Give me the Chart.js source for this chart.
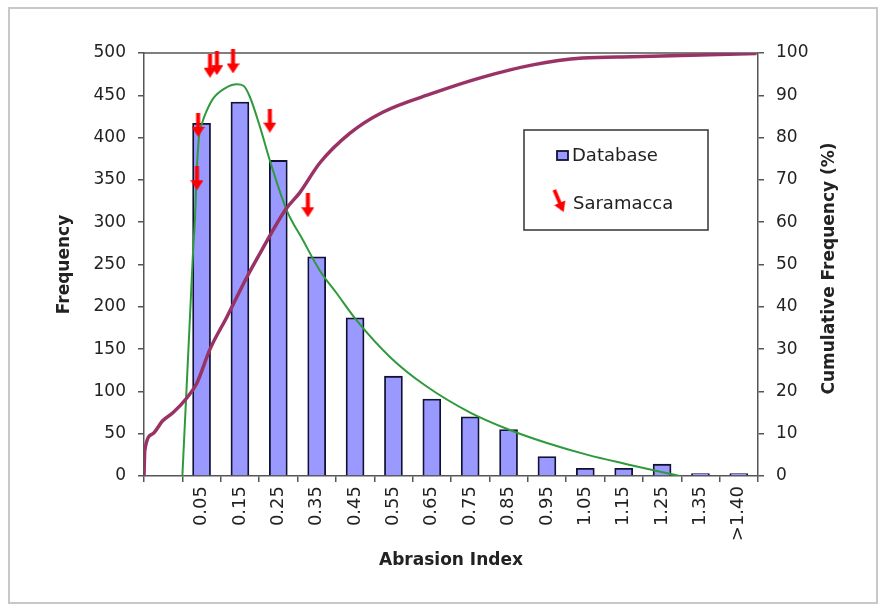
<!DOCTYPE html>
<html>
<head>
<meta charset="utf-8">
<script src="https://cdn.jsdelivr.net/npm/chart.js@4.4.1/dist/chart.umd.min.js"></script>
<style>
  html, body { margin: 0; padding: 0; background: #fff; }
  #wrap { width: 878px; height: 605px; }
</style>
</head>
<body>
<div id="wrap"><canvas id="chart" width="878" height="605"></canvas></div>
<script>
// --- data ---
const categories = ['', '0.05', '0.15', '0.25', '0.35', '0.45', '0.55', '0.65', '0.75',
                    '0.85', '0.95', '1.05', '1.15', '1.25', '1.35', '>1.40'];
const frequency = [null, 417, 442, 373, 259, 187, 118, 91, 70, 55, 23, 9, 9, 14, 3, 3];

// cumulative frequency curve (right axis, %)
const cumIndex   = [-0.100, -0.098, -0.077, -0.052, -0.024, 0.012, 0.038, 0.072, 0.116, 0.168,
                    0.207, 0.269, 0.306, 0.358, 0.436, 0.522, 0.653, 0.783, 0.913, 1.043,
                    1.173, 1.350, 1.496];
const cumPercent = [0, 6, 10, 13, 15, 18.5, 22, 30, 37.6, 47,
                    53.4, 63, 67, 74, 81, 86, 90.5, 94.3, 97.2, 98.8,
                    99.1, 99.5, 99.9];

// fitted distribution (left axis)
const fitIndex = [0.000, 0.010, 0.020, 0.028, 0.033, 0.037, 0.043, 0.050, 0.060, 0.080,
                  0.110, 0.142, 0.160, 0.176, 0.202, 0.228, 0.272, 0.314, 0.358, 0.402,
                  0.454, 0.545, 0.633, 0.750, 0.850, 0.950, 1.056, 1.158, 1.246, 1.296];
const fitFrequency = [0, 95, 190, 267, 305, 355, 400, 415, 428, 446,
                      458, 463, 461, 448, 413, 373, 314, 279, 243, 216,
                      184, 139, 107, 75, 55, 39, 25, 14, 5, 0];

// Saramacca samples (arrows)
const saramaccaIndex = [0.041, 0.038, 0.072, 0.090, 0.132, 0.228, 0.327];
const saramaccaLevel = [415, 352, 485, 488, 490, 420, 320];

const FONT = 'DejaVu Sans';
const TEXT = '#222';
const AXIS = '#555';

// small red down arrow used as point style
function makeArrow(w, h) {
    const c = document.createElement('canvas');
    c.width = w; c.height = h;
    const g = c.getContext('2d');
    const shaft = 4, head = 10;
    g.fillStyle = '#ff0000';
    g.fillRect(w / 2 - shaft / 2, 0, shaft, h - head);
    g.beginPath();
    g.moveTo(0, h - head);
    g.lineTo(w, h - head);
    g.lineTo(w / 2, h);
    g.closePath();
    g.fill();
    return c;
}
const arrowImg = makeArrow(13, 24);

// frame, top border, right title, legend
const decorations = {
    id: 'decorations',
    beforeDatasetsDraw(chart) {
        const { ctx, chartArea: a } = chart;
        ctx.save();
        ctx.strokeStyle = '#c8c8c8';
        ctx.lineWidth = 2;
        ctx.strokeRect(9, 8, 868, 595);
        ctx.strokeStyle = AXIS;
        ctx.lineWidth = 1.5;
        ctx.beginPath();
        ctx.moveTo(a.left, a.top);
        ctx.lineTo(a.right, a.top);
        ctx.stroke();
        ctx.restore();
    },
    afterDraw(chart) {
        const { ctx, chartArea: a } = chart;
        ctx.save();

        // right axis title, reading bottom to top
        ctx.translate(830, (a.top + a.bottom) / 2 + 4);
        ctx.rotate(-Math.PI / 2);
        ctx.fillStyle = TEXT;
        ctx.font = 'bold 17px "' + FONT + '"';
        ctx.textAlign = 'center';
        ctx.textBaseline = 'middle';
        ctx.fillText('Cumulative Frequency (%)', 0, 0);
        ctx.setTransform(1, 0, 0, 1, 0, 0);

        // legend box
        ctx.fillStyle = '#fff';
        ctx.fillRect(524, 130, 184, 100);
        ctx.strokeStyle = '#333';
        ctx.lineWidth = 1.5;
        ctx.strokeRect(524, 130, 184, 100);

        ctx.fillStyle = '#9999ff';
        ctx.fillRect(557, 151, 11, 9);
        ctx.strokeStyle = '#111133';
        ctx.lineWidth = 1.8;
        ctx.strokeRect(557, 151, 11, 9);

        ctx.save();
        ctx.translate(559, 201);
        ctx.rotate(-0.4);
        ctx.drawImage(arrowImg, -6, -12, 12, 24);
        ctx.restore();

        ctx.fillStyle = TEXT;
        ctx.font = '18px "' + FONT + '"';
        ctx.textAlign = 'left';
        ctx.textBaseline = 'middle';
        ctx.fillText('Database', 572, 156);
        ctx.fillText('Saramacca', 573, 204);
        ctx.restore();
    }
};

const ctx = document.getElementById('chart');
new Chart(ctx, {
    type: 'bar',
    data: {
        labels: categories,
        datasets: [
            {
                type: 'bar',
                label: 'Database',
                data: frequency,
                backgroundColor: '#9999ff',
                borderColor: '#111133',
                borderWidth: 1.8,
                grouped: false,
                barThickness: 18,
                xAxisID: 'x',
                yAxisID: 'y',
                order: 4
            },
            {
                type: 'line',
                label: 'Fit',
                data: fitIndex.map((v, i) => ({ x: v, y: fitFrequency[i] })),
                xAxisID: 'xl',
                yAxisID: 'y',
                borderColor: '#2f9a3c',
                borderWidth: 2,
                pointRadius: 0,
                cubicInterpolationMode: 'monotone',
                order: 3
            },
            {
                type: 'line',
                label: 'Cumulative',
                data: cumIndex.map((v, i) => ({ x: v, y: cumPercent[i] })),
                xAxisID: 'xl',
                yAxisID: 'y1',
                borderColor: '#993366',
                borderWidth: 3.5,
                pointRadius: 0,
                cubicInterpolationMode: 'monotone',
                order: 2
            },
            {
                type: 'scatter',
                label: 'Saramacca',
                data: saramaccaIndex.map((v, i) => ({ x: v, y: saramaccaLevel[i] })),
                xAxisID: 'xl',
                yAxisID: 'y',
                showLine: false,
                pointStyle: arrowImg,
                pointRadius: 10,
                clip: false,
                order: 1
            }
        ]
    },
    options: {
        responsive: false,
        animation: false,
        layout: { padding: { left: 50, right: 60, top: 53, bottom: 30 } },
        plugins: {
            legend: { display: false },
            tooltip: { enabled: false }
        },
        scales: {
            x: {
                type: 'category',
                offset: true,
                grid: { offset: true, drawOnChartArea: false, tickLength: 6, color: AXIS, lineWidth: 1.5 },
                border: { color: AXIS, width: 1.5 },
                ticks: {
                    autoSkip: false, minRotation: 90, maxRotation: 90, padding: 4,
                    color: TEXT, font: { family: FONT, size: 18 }
                },
                title: {
                    display: true, text: 'Abrasion Index', color: TEXT,
                    font: { family: FONT, size: 17, weight: 'bold' }, padding: { top: 4, bottom: 4 }
                },
                afterFit(s) { s.height = 99; }
            },
            xl: { type: 'linear', display: false, offset: false, min: -0.1, max: 1.5 },
            y: {
                position: 'left',
                min: 0, max: 500,
                grid: { drawOnChartArea: false, tickLength: 6, color: AXIS, lineWidth: 1.5 },
                border: { color: AXIS, width: 1.5 },
                ticks: { stepSize: 50, padding: 12, color: TEXT, font: { family: FONT, size: 17 } },
                title: {
                    display: true, text: 'Frequency', color: TEXT,
                    font: { family: FONT, size: 17, weight: 'bold' }, padding: { top: 4, bottom: 4 }
                },
                afterFit(s) { s.width = 94; }
            },
            y1: {
                position: 'right',
                min: 0, max: 100,
                grid: { drawOnChartArea: false, tickLength: 6, color: AXIS, lineWidth: 1.5 },
                border: { color: AXIS, width: 1.5 },
                ticks: { stepSize: 10, padding: 12, color: TEXT, font: { family: FONT, size: 17 } },
                afterFit(s) { s.width = 60; }
            }
        }
    },
    plugins: [decorations]
});
</script>
</body>
</html>
